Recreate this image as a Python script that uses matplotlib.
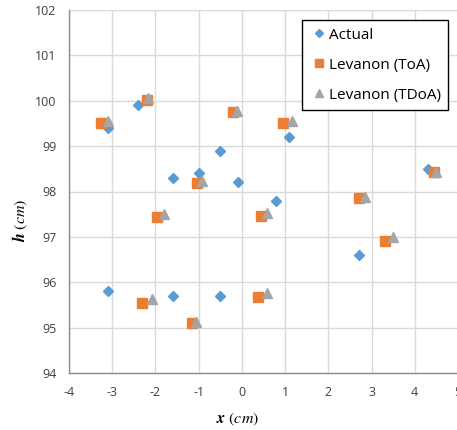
import matplotlib
matplotlib.use("Agg")
import matplotlib.pyplot as plt

plt.rcParams['mathtext.fontset'] = 'stix'

# Data
actual_x = [-3.1, -2.4, -1.6, -1.0, -0.5, -0.1, 1.1, 0.8, 4.3, 2.7, -3.1, -1.6, -0.5]
actual_h = [99.4, 99.9, 98.3, 98.4, 98.9, 98.2, 99.2, 97.8, 98.5, 96.6, 95.8, 95.7, 95.7]

toa_x = [-3.25, -2.2, -1.05, -0.2, 0.95, 2.7, 4.45, 0.45, -1.97, -2.3, -1.15, 0.37, 3.3]
toa_h = [99.5, 100.02, 98.18, 99.75, 99.5, 97.85, 98.43, 97.47, 97.43, 95.55, 95.1, 95.68, 96.92]

tdoa_x = [-3.1, -2.18, -0.92, -0.12, 1.16, 2.85, 4.5, 0.58, -1.8, -2.08, -1.06, 0.58, 3.5]
tdoa_h = [99.55, 100.05, 98.23, 99.77, 99.56, 97.88, 98.44, 97.53, 97.51, 95.63, 95.12, 95.76, 97.0]

x_ticks = [-4, -3, -2, -1, 0, 1, 2, 3, 4, 5]
y_ticks = [94, 95, 96, 97, 98, 99, 100, 101, 102]

W, H = 457, 430
fig = plt.figure(figsize=(W / 100, H / 100), dpi=100)
ax = fig.add_axes([69 / W, (H - 373) / H, (458 - 69) / W, (373 - 10) / H])

ax.plot(actual_x, actual_h, linestyle='none', marker='D', markersize=5.5,
        color='#5B9BD5', label='Actual', zorder=3)
ax.plot(toa_x, toa_h, linestyle='none', marker='s', markersize=7.2,
        color='#ED7D31', label='Levanon (ToA)', zorder=4)
ax.plot(tdoa_x, tdoa_h, linestyle='none', marker='^', markersize=7.5,
        color='#A5A5A5', label='Levanon (TDoA)', zorder=5)

ax.set_xlim(-4, 5)
ax.set_ylim(94, 102)
ax.set_xticks(x_ticks)
ax.set_yticks(y_ticks)
ax.set_xticklabels([str(v) for v in x_ticks])
ax.set_yticklabels([str(v) for v in y_ticks])
ax.grid(True, color='#D9D9D9', linewidth=1.0, zorder=0)
ax.set_axisbelow(True)
ax.tick_params(length=0, labelsize=9, labelcolor='#404040', pad=9)
for lab in ax.get_xticklabels() + ax.get_yticklabels():
    lab.set_family('Open Sans')

for s in ['top', 'right']:
    ax.spines[s].set_visible(False)
for s in ['left', 'bottom']:
    ax.spines[s].set_color('#8C8C8C')
    ax.spines[s].set_linewidth(1.0)

leg = ax.legend(loc='upper left', bbox_to_anchor=((302 - 69) / (458 - 69), 1 - (20 - 10) / 363),
                frameon=True, fancybox=False, edgecolor='black', framealpha=1,
                prop={'family': 'Open Sans', 'size': 11}, handletextpad=0.05,
                handlelength=1.2, labelspacing=0.98, borderpad=0.5, borderaxespad=0,
                markerscale=0.8)
leg.get_frame().set_linewidth(1.0)
leg.get_frame().set_zorder(10)

fig.text(238 / W, 1 - 419 / H, r'$\mathbfit{x}\ (cm)$', ha='center', va='center', fontsize=11.5)
fig.text(20 / W, 1 - 220 / H, r'$\mathbfit{h}\ (cm)$', ha='center', va='center', fontsize=11.5, rotation=90)

fig.savefig('out.png', dpi=100)
